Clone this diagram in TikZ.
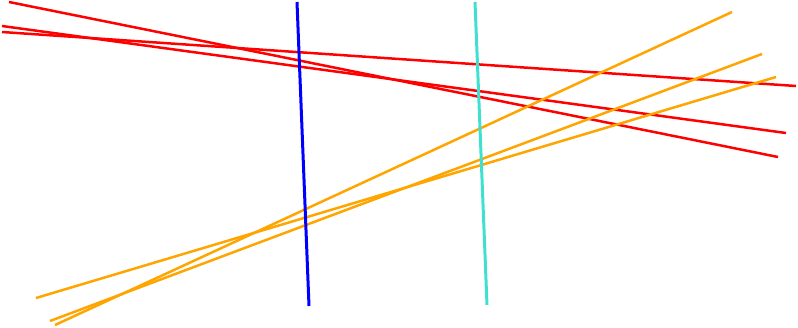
\documentclass[tikz,border=0pt]{standalone}
\usepackage{tikz}
\definecolor{redline}{HTML}{FF0000}
\definecolor{orangeline}{HTML}{FFA500}
\definecolor{blueline}{HTML}{0000FF}
\definecolor{cyanline}{HTML}{40E0D0}
\tikzset{
  seg/.style={line width=2.5pt},
  vseg/.style={line width=3pt},
}
\begin{document}
\begin{tikzpicture}[x=1pt,y=-1pt]
    \useasboundingbox (0,0) rectangle (798,327);
    % red
    \coordinate (ra) at (9,2);     \coordinate (rb) at (778,157);
    \coordinate (rc) at (2,26);    \coordinate (rd) at (786,133);
    \coordinate (re) at (2,32);    \coordinate (rf) at (796,86);
    % orange
    \coordinate (oa) at (55,325);  \coordinate (ob) at (732,12);
    \coordinate (oc) at (50,321);  \coordinate (od) at (762,54);
    \coordinate (oe) at (36,298);  \coordinate (of) at (776,77);
    % verticals
    \coordinate (ba) at (297,2);   \coordinate (bb) at (309,306);
    \coordinate (ca) at (475,2);   \coordinate (cb) at (487,305);
    \draw[seg,redline] (ra) -- (rb);
    \draw[seg,redline] (rc) -- (rd);
    \draw[seg,redline] (re) -- (rf);
    \draw[seg,orangeline] (oa) -- (ob);
    \draw[seg,orangeline] (oc) -- (od);
    \draw[seg,orangeline] (oe) -- (of);
    \draw[vseg,blueline] (ba) -- (bb);
    \draw[vseg,cyanline] (ca) -- (cb);
  \end{tikzpicture}
\end{document}
